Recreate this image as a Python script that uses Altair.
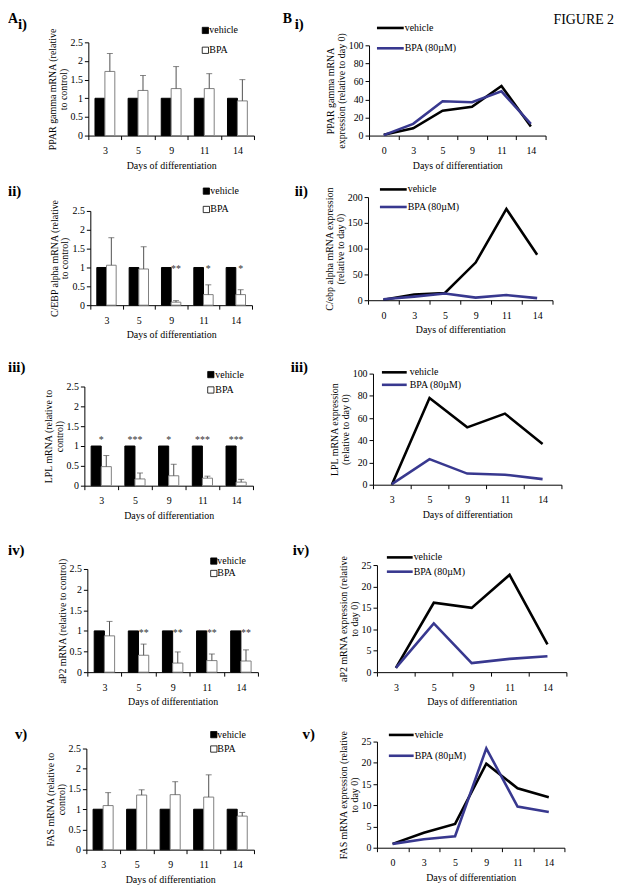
import altair as alt
import pandas as pd

# ---------------- data ----------------
bar_days = ["3", "5", "9", "11", "14"]
bar_series = ["vehicle", "BPA"]
line_series = ["vehicle", "BPA (80µM)"]
days_0_14 = ["0", "3", "5", "9", "11", "14"]
days_3_14 = ["3", "5", "9", "11", "14"]

bar_ticks = [0, 0.5, 1, 1.5, 2, 2.5]

# A i  PPAR gamma (relative to control)
pparg_vehicle = [1, 1, 1, 1, 1]
pparg_bpa = [1.72, 1.21, 1.26, 1.26, 0.93]
pparg_bpa_upper = [2.20, 1.61, 1.85, 1.66, 1.50]
pparg_sig = ["", "", "", "", ""]

# A ii  C/EBP alpha
cebpa_vehicle = [1, 1, 1, 1, 1]
cebpa_bpa = [1.06, 0.96, 0.08, 0.28, 0.28]
cebpa_bpa_upper = [1.79, 1.55, 0.12, 0.54, 0.41]
cebpa_sig = ["", "", "**", "*", "*"]

# A iii  LPL
lpl_vehicle = [1, 1, 1, 1, 1]
lpl_bpa = [0.48, 0.17, 0.25, 0.19, 0.09]
lpl_bpa_upper = [0.76, 0.32, 0.54, 0.24, 0.16]
lpl_sig = ["*", "***", "*", "***", "***"]

# A iv  aP2
ap2_vehicle = [1, 1, 1, 1, 1]
ap2_bpa = [0.88, 0.41, 0.22, 0.28, 0.27]
ap2_bpa_upper = [1.23, 0.68, 0.49, 0.44, 0.54]
ap2_sig = ["", "**", "**", "**", "**"]

# A v  FAS
fas_vehicle = [1, 1, 1, 1, 1]
fas_bpa = [1.09, 1.35, 1.36, 1.30, 0.83]
fas_bpa_upper = [1.41, 1.48, 1.68, 1.85, 0.92]
fas_sig = ["", "", "", "", ""]

# B  time courses (relative to day 0)
pparg_t_vehicle = [1, 8, 27.5, 32, 55, 10]
pparg_t_bpa = [0.5, 13, 38, 37, 49, 13]
pparg_t_ticks = [0, 20, 40, 60, 80, 100]

cebpa_t_vehicle = [1, 11, 14, 73, 177, 88]
cebpa_t_bpa = [2, 7, 13, 5, 10, 4]
cebpa_t_ticks = [0, 50, 100, 150, 200]

lpl_t_vehicle = [0, 78, 51.6, 64, 36.7]
lpl_t_bpa = [0.5, 23, 10, 9, 5]
lpl_t_ticks = [0, 20, 40, 60, 80, 100]

ap2_t_vehicle = [1, 16.2, 15, 22.7, 6.5]
ap2_t_bpa = [1, 11.4, 2.1, 3.1, 3.7]
ap2_t_ticks = [0, 5, 10, 15, 20, 25]

fas_t_vehicle = [0.9, 3.5, 5.6, 19.8, 14, 11.9]
fas_t_bpa = [0.9, 2, 2.7, 23.4, 9.7, 8.4]
fas_t_ticks = [0, 5, 10, 15, 20, 25]

x_title = "Days of differentiation"

# ---------------- layout (page pixels) ----------------
FONT = "Liberation Serif"
BLUE = "#38388f"
ERR = "#505050"
OX, OY = 8, 8
W, H = 607, 877


def cx(x):
    return x - OX


def cy(y):
    return y - OY


def axes(days, yticks, ytitle, box, yfield):
    xl, xr, yt, yb = box
    X = alt.X("day:N",
              scale=alt.Scale(domain=days, range=[cx(xl), cx(xr)], paddingInner=0, paddingOuter=0),
              axis=alt.Axis(title=x_title, orient="bottom", offset=cy(yb) - H,
                            tickBand="extent", labelAngle=0))
    Y = alt.Y(yfield,
              scale=alt.Scale(domain=[yticks[0], yticks[-1]], range=[cy(yb), cy(yt)], nice=False),
              axis=alt.Axis(title=ytitle, orient="left", offset=-cx(xl), values=yticks, format=".2~f"))
    return X, Y


def bar_panel(veh, bpa, upper, sig, sig_y, sig_on_bpa, ytitle, box):
    rows = []
    for i, d in enumerate(bar_days):
        rows.append(dict(day=d, series=bar_series[0], value=veh[i], upper=veh[i], sig="", sig_y=sig_y))
        rows.append(dict(day=d, series=bar_series[1], value=bpa[i], upper=upper[i], sig=sig[i], sig_y=sig_y))
    df = pd.DataFrame(rows)
    base = alt.Chart(df)
    X, Y = axes(bar_days, bar_ticks, ytitle, box, "value:Q")
    _, Yu = axes(bar_days, bar_ticks, ytitle, box, "upper:Q")
    _, Ys = axes(bar_days, bar_ticks, ytitle, box, "sig_y:Q")
    XO = alt.XOffset("series:N", scale=alt.Scale(domain=bar_series, paddingInner=0, paddingOuter=0.67))
    bars = base.mark_bar(strokeWidth=1).encode(
        x=X, xOffset=XO, y=Y,
        fill=alt.Fill("series:N", scale=alt.Scale(domain=bar_series, range=["black", "white"]), legend=None),
        stroke=alt.Stroke("series:N", scale=alt.Scale(domain=bar_series, range=["black", "#808080"]), legend=None),
    )
    bpa_only = base.transform_filter(alt.datum.series == bar_series[1])
    err = bpa_only.mark_rule(color=ERR, strokeWidth=1).encode(x=X, xOffset=XO, y=Y, y2="upper:Q")
    cap = bpa_only.mark_tick(color=ERR, size=6, thickness=1, orient="horizontal").encode(x=X, xOffset=XO, y=Yu)
    stars_base = base.transform_filter(alt.datum.sig != "")
    if sig_on_bpa:
        stars = stars_base.mark_text(font=FONT, fontSize=10, baseline="middle", dy=2, color="#333").encode(
            x=X, xOffset=XO, y=Ys, text="sig:N")
    else:
        stars = stars_base.mark_text(font=FONT, fontSize=10, baseline="middle", dy=2, color="#333").encode(
            x=X, y=Ys, text="sig:N")
    return alt.layer(bars, err, cap, stars)


def line_panel(days, veh, bpa, yticks, ytitle, box):
    rows = []
    for s, vals in zip(line_series, [veh, bpa]):
        for i, d in enumerate(days):
            rows.append(dict(day=d, series=s, value=vals[i], idx=i))
    df = pd.DataFrame(rows)
    X, Y = axes(days, yticks, ytitle, box, "value:Q")
    return alt.Chart(df).mark_line(strokeWidth=2.6).encode(
        x=X, y=Y,
        stroke=alt.Stroke("series:N", scale=alt.Scale(domain=line_series, range=["black", BLUE]), legend=None),
        order="idx:Q",
    )


def label(t, x, y, size=10, weight="normal", baseline="middle"):
    return alt.Chart(pd.DataFrame({"t": [t]})).mark_text(
        font=FONT, fontSize=size, fontWeight=weight, align="left", baseline=baseline, color="black"
    ).encode(x=alt.value(cx(x)), y=alt.value(cy(y)), text="t:N")


def bar_legend(sq_x, tx, y1, y2):
    out = []
    for name, fillc, y in zip(bar_series, ["black", "white"], [y1, y2]):
        out.append(alt.Chart(pd.DataFrame({"s": [name]})).mark_square(
            size=40, fill=fillc, stroke="black", strokeWidth=0.8, opacity=1
        ).encode(x=alt.value(cx(sq_x)), y=alt.value(cy(y))))
        out.append(label(name, tx, y))
    return out


def line_legend(x1, x2, tx, y1, y2):
    out = []
    for name, col, y in zip(line_series, ["black", BLUE], [y1, y2]):
        out.append(alt.Chart(pd.DataFrame({"s": [name]})).mark_rule(color=col, strokeWidth=2.6).encode(
            x=alt.value(cx(x1)), x2=alt.value(cx(x2)), y=alt.value(cy(y))))
        out.append(label(name, tx, y))
    return out


layers = []
# row i
layers.append(bar_panel(pparg_vehicle, pparg_bpa, pparg_bpa_upper, pparg_sig, 1.0, True,
                        ["PPAR gamma mRNA (relative", "to control)"], (89, 256, 39, 133)))
layers.append(line_panel(days_0_14, pparg_t_vehicle, pparg_t_bpa, pparg_t_ticks,
                         ["PPAR gamma mRNA", "expression (relative to day 0)"], (372, 550, 42, 133)))
# row ii
layers.append(bar_panel(cebpa_vehicle, cebpa_bpa, cebpa_bpa_upper, cebpa_sig, 1.0, True,
                        ["C/EBP alpha mRNA (relative", "to control)"], (91, 254, 209, 304)))
layers.append(line_panel(days_0_14, cebpa_t_vehicle, cebpa_t_bpa, cebpa_t_ticks,
                         ["C/ebp alpha mRNA expression", "(relative to day 0)"], (371, 557, 195, 299)))
# row iii
layers.append(bar_panel(lpl_vehicle, lpl_bpa, lpl_bpa_upper, lpl_sig, 1.21, False,
                        ["LPL mRNA (relative to", "control)"], (85, 255, 386, 486)))
layers.append(line_panel(days_3_14, lpl_t_vehicle, lpl_t_bpa, lpl_t_ticks,
                         ["LPL mRNA expression", "(relative to day 0)"], (376, 566, 373, 485)))
# row iv
layers.append(bar_panel(ap2_vehicle, ap2_bpa, ap2_bpa_upper, ap2_sig, 1.0, True,
                        "aP2 mRNA (relative to control)", (88, 260, 570, 674)))
layers.append(line_panel(days_3_14, ap2_t_vehicle, ap2_t_bpa, ap2_t_ticks,
                         ["aP2 mRNA expression (relative", "to day 0)"], (380, 571, 566, 674)))
# row v
layers.append(bar_panel(fas_vehicle, fas_bpa, fas_bpa_upper, fas_sig, 1.0, True,
                        ["FAS mRNA (relative to", "control)"], (87, 256, 751, 853)))
layers.append(line_panel(days_0_14, fas_t_vehicle, fas_t_bpa, fas_t_ticks,
                         ["FAS mRNA expression (relative", "to day 0)"], (380, 569, 744, 851)))

# legends
layers += bar_legend(207, 211, 27, 47)
layers += bar_legend(208, 212, 189, 207.5)
layers += bar_legend(212.5, 217, 374, 389.5)
layers += bar_legend(215.5, 219, 562, 574.5)
layers += bar_legend(215.5, 219, 737, 751.5)
layers += line_legend(380, 407, 408, 24.5, 45)
layers += line_legend(383, 410, 411, 187.3, 205)
layers += line_legend(385, 410, 413, 371.7, 384.3)
layers += line_legend(390, 416, 417, 558.3, 572.7)
layers += line_legend(392, 417, 418, 737.3, 758.3)

# panel labels
layers.append(label("A", 8, 8, size=14, weight="bold", baseline="top"))
layers.append(label("B", 285, 8, size=14, weight="bold", baseline="top"))
layers.append(label("FIGURE 2", 558, 17, size=14))
for t, xa, xb, y in [("i)", 18, 297, 20.5), ("ii)", 8, 297, 189), ("iii)", 8, 293, 366),
                     ("iv)", 8, 295, 551), ("v)", 15, 305, 736)]:
    layers.append(label(t, xa, y, size=15, weight="bold"))
    layers.append(label(t, xb, y, size=15, weight="bold"))

chart = alt.layer(*layers).resolve_scale(
    x="independent", y="independent", fill="independent", stroke="independent", xOffset="independent"
).properties(width=W, height=H, padding=0).configure_view(stroke=None).configure_axis(
    labelFont=FONT, labelFontSize=10, labelColor="black",
    titleFont=FONT, titleFontSize=10, titleFontWeight="normal", titleColor="black",
    domainColor="black", tickColor="black", tickSize=4, grid=False,
    labelPadding=2, titlePadding=2, minExtent=0, titleLineHeight=10.5,
).configure_axisX(labelPadding=6, titlePadding=5)

chart.save("out.html", embed_options={"renderer": "svg", "actions": False})
